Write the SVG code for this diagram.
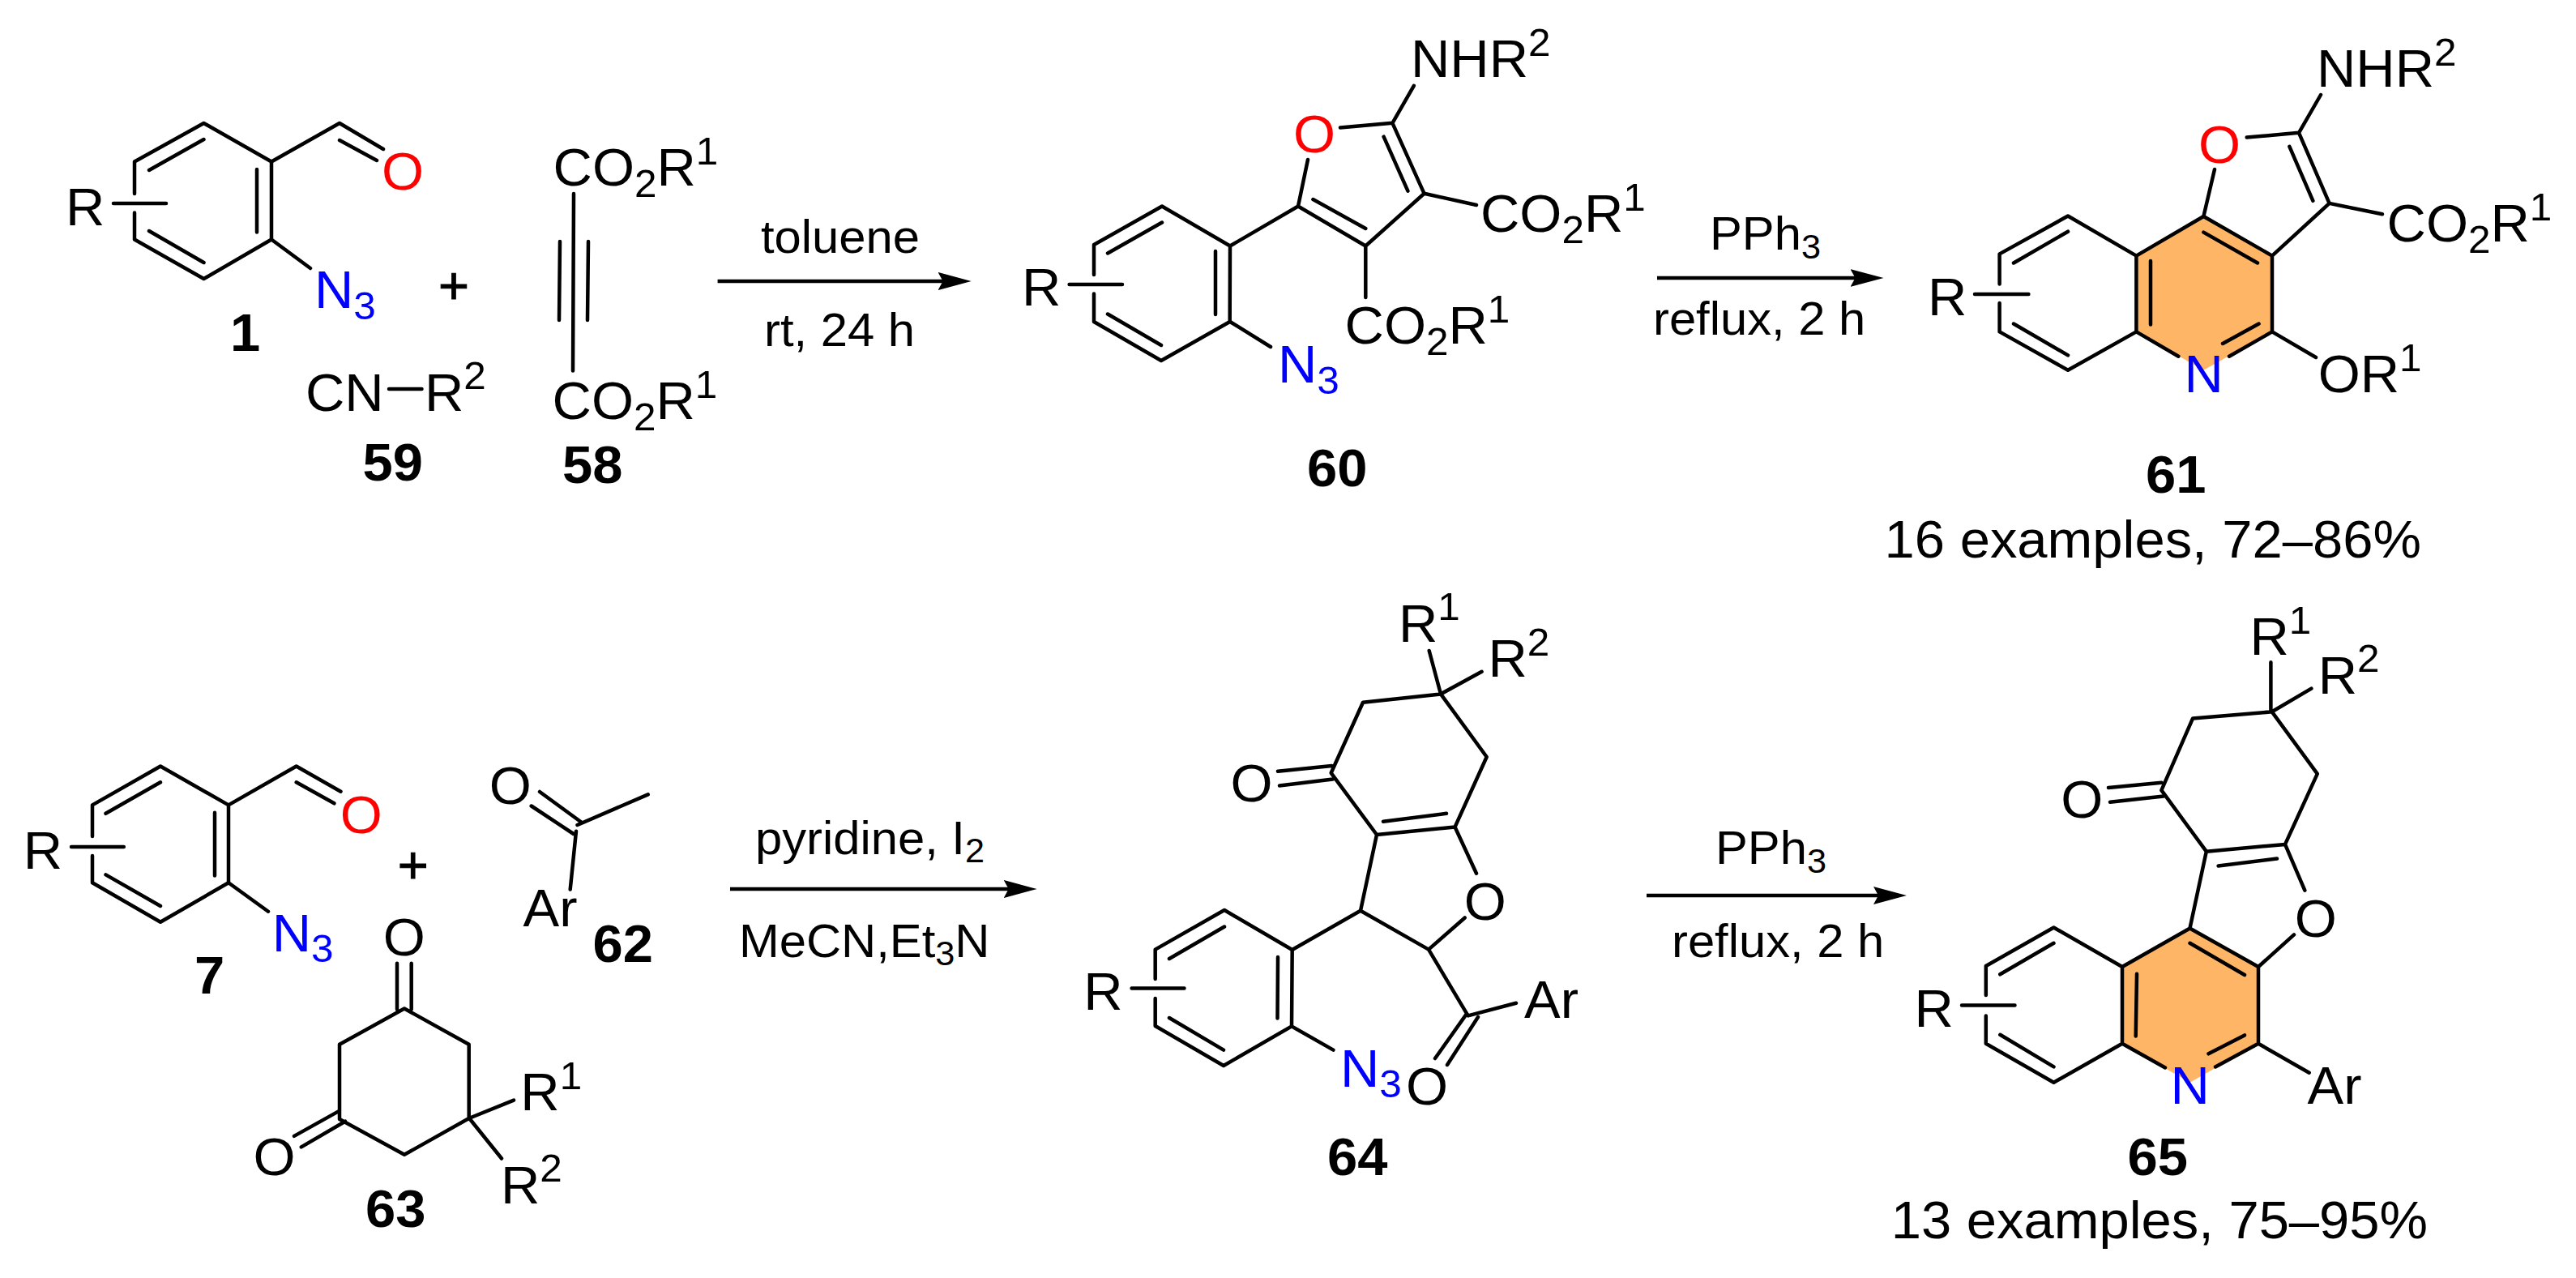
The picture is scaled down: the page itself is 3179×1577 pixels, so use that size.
<svg xmlns="http://www.w3.org/2000/svg" width="3179" height="1577" viewBox="0 0 3179 1577">
<defs>
<style>
text{font-family:"Liberation Sans",Arial,sans-serif;fill:#000}
.t{font-size:65px}
.l{font-size:58px}
.e{font-size:65px}
.n{font-size:65px;font-weight:700}
.s{font-size:48px}
.u{font-size:42px}
.p{stroke:#000;stroke-width:1}
.o{fill:#f00}
.z{fill:#00f}
.b{fill:none;stroke:#000;stroke-width:4.5;stroke-linecap:round;stroke-linejoin:round}
.a{fill:none;stroke:#000;stroke-width:4.5}
.f{fill:#ffb566;stroke:none}
</style>
<marker id="h" markerUnits="userSpaceOnUse" markerWidth="41" markerHeight="22" viewBox="0 0 41 22" refX="8" refY="11" orient="auto"><path d="M0 0L41 11L0 22L6 11Z" fill="#000"/></marker>
</defs>
<rect width="3179" height="1577" fill="#fff"/>
<g id="connectors">
<path class="a" marker-end="url(#h)" d="M885.6 347H1165.6"/>
<path class="a" marker-end="url(#h)" d="M2045 343H2291.5"/>
<path class="a" marker-end="url(#h)" d="M901 1097H1246.7"/>
<path class="a" marker-end="url(#h)" d="M2032 1105H2320"/>
</g>
<g id="reagents-1">
<text class="l" transform="matrix(1.03 0 0 1 939 311.7)">toluene</text>
<text class="l" transform="matrix(1.03 0 0 1 943 426.7)">rt, 24 h</text>
</g>
<g id="reagents-2">
<text class="l" transform="matrix(1.03 0 0 1 2110 308)">PPh<tspan class="u" dy="11">3</tspan></text>
<text class="l" transform="matrix(1.03 0 0 1 2040 413)">reflux, 2 h</text>
</g>
<g id="reagents-3">
<text class="l" transform="matrix(1.03 0 0 1 932 1054)">pyridine, I<tspan class="u" dy="10">2</tspan></text>
<text class="l" transform="matrix(1.03 0 0 1 912 1181)">MeCN,Et<tspan class="u" dy="10">3</tspan><tspan dy="-10">N</tspan></text>
</g>
<g id="reagents-4">
<text class="l" transform="matrix(1.03 0 0 1 2117 1066)">PPh<tspan class="u" dy="11">3</tspan></text>
<text class="l" transform="matrix(1.03 0 0 1 2063 1181)">reflux, 2 h</text>
</g>
<g id="compound-1">
<path class="b" d="M166 239V199.5L251.5 152L335 199.5V295.5L251.5 344L166 295.5V262.5M184 210L251.5 172M317 209V286.6M184 285L251.5 324M140 251H205M335 199.5L419 152L473 184M419 173L465 198M335 295.5L383 331"/>
<text class="t" transform="matrix(1.03 0 0 1 81 278)">R</text>
<text class="t o" transform="matrix(1.03 0 0 1 471 234)">O</text>
<text class="t z" transform="matrix(1.03 0 0 1 388 380)">N<tspan class="s" dy="14">3</tspan></text>
<text class="n" transform="matrix(1.03 0 0 1 284 433)">1</text>
</g>
<g id="plus-1"><text class="t p" text-anchor="middle" x="560" y="375">+</text></g>
<g id="compound-59">
<path class="b" d="M480 480H520.5"/>
<text class="t" transform="matrix(1.03 0 0 1 377 507)">CN</text>
<text class="t" transform="matrix(1.03 0 0 1 524 507)">R<tspan class="s" dy="-27">2</tspan></text>
<text class="n" transform="matrix(1.03 0 0 1 447.5 593)">59</text>
</g>
<g id="compound-58">
<path class="b" d="M708 239L707 457.6M691 298L690 395M726 298L725 395"/>
<text class="t" transform="matrix(1.03 0 0 1 682.6 229)">CO<tspan class="s" dy="14">2</tspan><tspan dy="-14">R</tspan><tspan class="s" dy="-26">1</tspan></text>
<text class="t" transform="matrix(1.03 0 0 1 681.6 516.5)">CO<tspan class="s" dy="14">2</tspan><tspan dy="-14">R</tspan><tspan class="s" dy="-26">1</tspan></text>
<text class="n" transform="matrix(1.03 0 0 1 694 596)">58</text>
</g>
<g id="compound-60">
<path class="b" d="M1350 339V302L1434 254.5L1518 303.5L1517.7 397L1433 445L1350 397V362.5M1367 312.5L1434 274.5M1500 310V388M1367 387.5L1433 426M1319.6 351H1385M1518 303.5L1602 254.5L1614 197M1654 157.6L1718.4 151.8L1757.6 238.8L1685.3 303.5L1602 254.5M1707.6 168.7L1737.4 235.7M1620.4 246L1685.3 282M1718.4 151.8L1744.8 105.8M1757.6 238.8L1822 253M1685.3 303.5V367M1518 397L1568 428"/>
<text class="t" transform="matrix(1.03 0 0 1 1261 377)">R</text>
<text class="t z" transform="matrix(1.03 0 0 1 1577 472)">N<tspan class="s" dy="14">3</tspan></text>
<text class="t o" transform="matrix(1.03 0 0 1 1596 188.4)">O</text>
<text class="t" transform="matrix(1.03 0 0 1 1741 95)">NHR<tspan class="s" dy="-26">2</tspan></text>
<text class="t" transform="matrix(1.03 0 0 1 1827 285.7)">CO<tspan class="s" dy="14">2</tspan><tspan dy="-14">R</tspan><tspan class="s" dy="-26">1</tspan></text>
<text class="t" transform="matrix(1.03 0 0 1 1659.6 424)">CO<tspan class="s" dy="14">2</tspan><tspan dy="-14">R</tspan><tspan class="s" dy="-26">1</tspan></text>
<text class="n" transform="matrix(1.03 0 0 1 1613 600)">60</text>
</g>
<g id="compound-61">
<path class="f" d="M2636.4 315.6L2719.4 267L2804 315.6V409.4L2719.4 456.7L2636.4 409.4Z"/>
<path class="b" d="M2467.6 350.4V313.4L2552 266.5L2636.4 315.6V409.4L2552 456.7L2467.6 409.4V374M2485 324.5L2552 285.7M2485 399.5L2552 438.4M2437 363H2503.4M2636.4 315.6L2719.4 267L2804 315.6V409.4L2751 439.7M2636.4 409.4L2688.4 439.7M2654 322V400.5M2719.4 286.6L2786 324.5M2743 424L2787.6 399.5M2719.4 267L2733 209M2772.7 169.6L2837 163.8L2874.6 250.9L2804 315.6M2825.4 180.8L2854.4 247.8M2837 163.8L2864 117M2874.6 250.9L2940 264.3M2804 409.4L2858 441"/>
<text class="t" transform="matrix(1.03 0 0 1 2379 389)">R</text>
<text class="t z" transform="matrix(1.03 0 0 1 2695.5 483.5)">N</text>
<text class="t o" transform="matrix(1.03 0 0 1 2713 201)">O</text>
<text class="t" transform="matrix(1.03 0 0 1 2859 107)">NHR<tspan class="s" dy="-26">2</tspan></text>
<text class="t" transform="matrix(1.03 0 0 1 2945.6 297.7)">CO<tspan class="s" dy="14">2</tspan><tspan dy="-14">R</tspan><tspan class="s" dy="-26">1</tspan></text>
<text class="t" transform="matrix(1.03 0 0 1 2860.7 483.5)">OR<tspan class="s" dy="-26">1</tspan></text>
<text class="n" transform="matrix(1.03 0 0 1 2648 608)">61</text>
<text class="e" transform="matrix(1.03 0 0 1 2325.6 687.5)">16 examples, 72–86%</text>
</g>
<g id="compound-7">
<path class="b" d="M114 1032V993.4L198 945.5L282 993.4V1089.3L198 1137.7L114 1089.3V1056M130.5 1003.8L198 965.3M265 1002.8V1080.4M130.5 1079.4L198 1118M88 1045H152.8M282 993.4L365.7 945.5L420.5 976.7M365.7 965.3L412.4 991.3M282 1089.3L331 1124.7"/>
<text class="t" transform="matrix(1.03 0 0 1 28.7 1071.6)">R</text>
<text class="t o" transform="matrix(1.03 0 0 1 419.7 1028.3)">O</text>
<text class="t z" transform="matrix(1.03 0 0 1 335.7 1174)">N<tspan class="s" dy="13">3</tspan></text>
<text class="n" transform="matrix(1.03 0 0 1 240 1226)">7</text>
</g>
<g id="plus-2"><text class="t p" text-anchor="middle" x="509.7" y="1090">+</text></g>
<g id="compound-62">
<path class="b" d="M666 977L718 1015M655.7 994.5L707.8 1029M712.5 1018L799.7 980.4M711 1025.7L703.7 1097.6"/>
<text class="t" transform="matrix(1.03 0 0 1 603.7 992)">O</text>
<text class="t" transform="matrix(1.03 0 0 1 645.6 1143)">Ar</text>
<text class="n" transform="matrix(1.03 0 0 1 731.5 1187)">62</text>
</g>
<g id="compound-63">
<path class="b" d="M490 1188.8V1245.6M507.7 1188.8V1245.6M499 1244.5L578.7 1288.8V1380L499 1424.8L419 1381V1288.8ZM419 1370.6L363 1401.9M426 1383.7L371.8 1415.4M578.7 1380L634 1357.6M580 1381L619 1429.5"/>
<text class="t" transform="matrix(1.03 0 0 1 472.7 1179.4)">O</text>
<text class="t" transform="matrix(1.03 0 0 1 312.4 1450)">O</text>
<text class="t" transform="matrix(1.03 0 0 1 642.3 1369.6)">R<tspan class="s" dy="-26">1</tspan></text>
<text class="t" transform="matrix(1.03 0 0 1 618 1485)">R<tspan class="s" dy="-27">2</tspan></text>
<text class="n" transform="matrix(1.03 0 0 1 451 1514)">63</text>
</g>
<g id="compound-64">
<path class="b" d="M1425.7 1208V1171.6L1511 1123L1594.7 1172L1594 1266.4L1510 1315L1425.7 1266V1232M1443 1183L1511 1143.5M1577 1181L1576.5 1256.5M1443 1256L1510 1295.6M1396.6 1219.5H1461.5M1594 1266.4L1645.4 1295.6M1594.7 1172L1679 1123.7L1763 1171.6L1807.7 1132.5M1763 1171.6L1811.7 1253.4L1871 1237.8M1809 1252.4L1771 1306M1824 1255L1786 1314M1822 1077.8L1795.5 1020.5L1699 1030L1679 1123.7M1707 1013.7L1785 1003.8M1795.5 1020.5L1834.7 934L1778 856.4L1682 866.8L1642.7 953.8L1699 1030M1643.4 945L1577 951.7M1644.7 961.6L1579 969.4M1778 856.4L1763.7 803M1778 856.4L1828.6 828.8"/>
<text class="t" transform="matrix(1.03 0 0 1 1337.3 1246)">R</text>
<text class="t z" transform="matrix(1.03 0 0 1 1654 1341)">N<tspan class="s" dy="13">3</tspan></text>
<text class="t" transform="matrix(1.03 0 0 1 1735 1363)">O</text>
<text class="t" transform="matrix(1.03 0 0 1 1881 1256)">Ar</text>
<text class="t" transform="matrix(1.03 0 0 1 1806.7 1135)">O</text>
<text class="t" transform="matrix(1.03 0 0 1 1518.4 989)">O</text>
<text class="t" transform="matrix(1.03 0 0 1 1726 791.7)">R<tspan class="s" dy="-26.7">1</tspan></text>
<text class="t" transform="matrix(1.03 0 0 1 1836.4 835)">R<tspan class="s" dy="-26">2</tspan></text>
<text class="n" transform="matrix(1.03 0 0 1 1638 1450)">64</text>
</g>
<g id="compound-65">
<path class="f" d="M2619 1193L2702.5 1145.5L2787 1193V1287.8L2702.5 1335.7L2619 1287.8Z"/>
<path class="b" d="M2450.8 1228V1192L2534.5 1144.5L2619 1193V1287.8L2534.5 1335.7L2450.8 1287.8V1253.4M2468.3 1202.3L2534.5 1163.8M2468.3 1276.8L2534.5 1316.4M2421 1240.4H2486.5M2619 1193L2702.5 1145.5L2787 1193V1287.8L2734 1316.4M2619 1287.8L2672 1317.5M2637 1201.8L2635.7 1278.4M2702.5 1163.8L2770 1203M2725.5 1300.3L2770 1277.4M2787 1287.8L2849.7 1323.7M2787 1193L2831 1153.4M2844.3 1098.7L2820 1041.9L2722.8 1050.7L2702.5 1145.5M2810 1059.6L2737.6 1068.4M2820 1041.9L2859.8 954.9L2803.8 878.3L2706 886.6L2667.4 975.2L2722.8 1050.7M2667.4 965.8L2602 972M2670 982.5L2604 989.8M2802.4 878.3V817.3M2803.8 878.3L2852.4 849.6"/>
<text class="t" transform="matrix(1.03 0 0 1 2362.4 1267)">R</text>
<text class="t z" transform="matrix(1.03 0 0 1 2678.6 1361.8)">N</text>
<text class="t" transform="matrix(1.03 0 0 1 2847.6 1361.8)">Ar</text>
<text class="t" transform="matrix(1.03 0 0 1 2831.7 1156)">O</text>
<text class="t" transform="matrix(1.03 0 0 1 2543.3 1009)">O</text>
<text class="t" transform="matrix(1.03 0 0 1 2776.4 808.3)">R<tspan class="s" dy="-26.6">1</tspan></text>
<text class="t" transform="matrix(1.03 0 0 1 2860.7 856)">R<tspan class="s" dy="-27">2</tspan></text>
<text class="n" transform="matrix(1.03 0 0 1 2625.6 1450)">65</text>
<text class="e" transform="matrix(1.03 0 0 1 2333.7 1527.5)">13 examples, 75–95%</text>
</g>
</svg>
